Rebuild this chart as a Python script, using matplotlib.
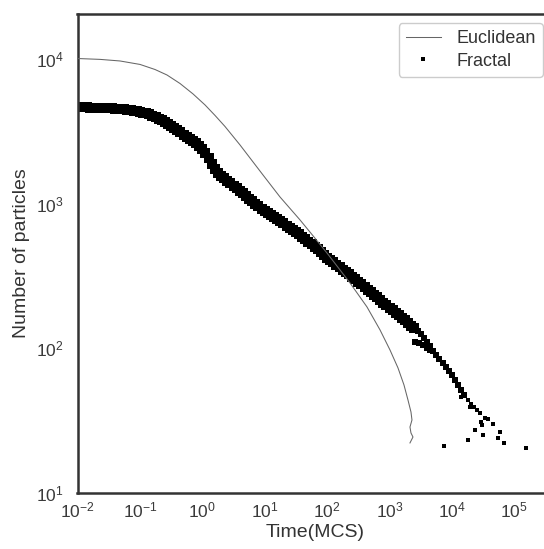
import matplotlib
matplotlib.use('Agg')
import matplotlib.pyplot as plt
import numpy as np

plt.rcParams['font.family'] = ['Liberation Sans', 'DejaVu Sans']
plt.rcParams['mathtext.fontset'] = 'custom'
plt.rcParams['mathtext.rm'] = 'Liberation Sans'
plt.rcParams['mathtext.it'] = 'Liberation Sans:italic'
plt.rcParams['mathtext.bf'] = 'Liberation Sans:bold'

# ---- data (log10 values) ----
euclid_log10_time = [-2.0, -1.639, -1.319, -0.998, -0.758, -0.566, -0.357, -0.149, 0.043, 0.204,
                     0.363, 0.604, 0.973, 1.245, 1.566, 1.758, 1.998, 2.207, 2.367, 2.639,
                     2.848, 3.008, 3.136, 3.232, 3.296, 3.344, 3.360, 3.328, 3.344, 3.376,
                     3.328]
euclid_log10_count = [4.003, 3.997, 3.986, 3.962, 3.927, 3.889, 3.830, 3.758, 3.682, 3.609,
                      3.533, 3.405, 3.197, 3.045, 2.886, 2.785, 2.657, 2.540, 2.450, 2.284,
                      2.125, 1.986, 1.862, 1.744, 1.640, 1.557, 1.502, 1.453, 1.412, 1.384,
                      1.343]

fractal_band_log10_time = [
    -2.00, -1.95, -1.90, -1.85, -1.80, -1.75, -1.70, -1.65, -1.60, -1.55,
    -1.50, -1.45, -1.40, -1.35, -1.30, -1.25, -1.20, -1.15, -1.10, -1.05,
    -1.00, -0.95, -0.90, -0.85, -0.80, -0.75, -0.70, -0.65, -0.60, -0.55,
    -0.50, -0.45, -0.40, -0.35, -0.30, -0.25, -0.20, -0.15, -0.10, -0.05,
    0.00, 0.05, 0.10, 0.15, 0.20, 0.25, 0.30, 0.35, 0.40, 0.45,
    0.50, 0.55, 0.60, 0.65, 0.70, 0.75, 0.80, 0.85, 0.90, 0.95,
    1.00, 1.05, 1.10, 1.15, 1.20, 1.25, 1.30, 1.35, 1.40, 1.45,
    1.50, 1.55, 1.60, 1.65, 1.70, 1.75, 1.80, 1.85, 1.90, 1.95,
    2.00, 2.05, 2.10, 2.15, 2.20, 2.25, 2.30, 2.35, 2.40, 2.45,
    2.50, 2.55, 2.60, 2.65, 2.70, 2.75, 2.80, 2.85, 2.90, 2.95,
    3.00, 3.05, 3.10, 3.15, 3.20, 3.25, 3.30, 3.35, 3.40]
fractal_band_log10_count = [
    3.668, 3.667, 3.666, 3.665, 3.664, 3.663, 3.662, 3.661, 3.661, 3.660,
    3.659, 3.658, 3.657, 3.656, 3.655, 3.652, 3.648, 3.644, 3.640, 3.637,
    3.633, 3.629, 3.626, 3.618, 3.608, 3.597, 3.586, 3.575, 3.564, 3.552,
    3.538, 3.523, 3.508, 3.492, 3.477, 3.461, 3.447, 3.434, 3.420, 3.398,
    3.375, 3.349, 3.315, 3.272, 3.240, 3.213, 3.191, 3.174, 3.157, 3.140,
    3.122, 3.104, 3.086, 3.069, 3.051, 3.034, 3.016, 2.998, 2.981, 2.963,
    2.947, 2.933, 2.919, 2.906, 2.892, 2.877, 2.862, 2.847, 2.832, 2.817,
    2.802, 2.786, 2.769, 2.753, 2.736, 2.718, 2.700, 2.682, 2.663, 2.645,
    2.626, 2.609, 2.592, 2.575, 2.559, 2.543, 2.527, 2.511, 2.494, 2.477,
    2.459, 2.441, 2.422, 2.404, 2.386, 2.368, 2.350, 2.332, 2.314, 2.297,
    2.279, 2.262, 2.245, 2.227, 2.209, 2.191, 2.173, 2.155, 2.137]

fractal_tail_log10_time = [3.45, 3.50, 3.55, 3.60, 3.65, 3.70, 3.75, 3.80, 3.85, 3.90,
                           3.95, 4.00, 4.05, 4.10, 4.15, 4.20,
                           3.41, 3.47, 3.54, 3.60, 3.65]
fractal_tail_log10_count = [2.118, 2.098, 2.070, 2.041, 2.013, 1.980, 1.952, 1.925, 1.897, 1.870,
                            1.842, 1.815, 1.780, 1.745, 1.709, 1.672,
                            2.044, 2.032, 2.021, 2.003, 1.986]

fractal_scatter_log10_time = [4.25, 4.30, 4.35, 4.40, 4.45,
                              3.873, 4.258, 4.370, 4.483, 4.498, 4.466, 4.578, 4.659, 4.771,
                              4.739, 4.835, 5.188, 4.53, 4.29, 4.146]
fractal_scatter_log10_count = [1.640, 1.615, 1.590, 1.571, 1.550,
                               1.322, 1.363, 1.433, 1.467, 1.398, 1.488, 1.509, 1.474, 1.419,
                               1.377, 1.343, 1.308, 1.516, 1.592, 1.661]

x_tick_exponents = [-2, -1, 0, 1, 2, 3, 4, 5]
y_tick_exponents = [1, 2, 3, 4]
series_labels = ['Euclidean', 'Fractal']

# ---- figure ----
fig = plt.figure(figsize=(5.44, 5.49), dpi=100)
ax = fig.add_axes([77.5 / 544, 56.5 / 549, 475 / 544, 478.5 / 549])
ax.set_xscale('log')
ax.set_yscale('log')

p10 = lambda v: np.power(10.0, np.asarray(v, dtype=float))

eu_line, = ax.plot(p10(euclid_log10_time), p10(euclid_log10_count),
                   color='#666666', lw=0.75, label=series_labels[0], zorder=3)
ax.plot(p10(fractal_band_log10_time), p10(fractal_band_log10_count), 's',
        color='black', ms=6.5, mew=0, zorder=2)
ax.plot(p10(fractal_tail_log10_time), p10(fractal_tail_log10_count), 's',
        color='black', ms=5.0, mew=0, zorder=2)
fr_pts, = ax.plot(p10(fractal_scatter_log10_time), p10(fractal_scatter_log10_count), 's',
                  color='black', ms=3.5, mew=0, zorder=2, label=series_labels[1])

ax.set_xlim(1e-2, 10 ** 5.612)
ax.set_ylim(10, 10 ** 4.311)
ax.set_xticks([10.0 ** e for e in x_tick_exponents])
ax.set_xticklabels([r'$10^{%d}$' % e for e in x_tick_exponents])
ax.set_yticks([10.0 ** e for e in y_tick_exponents])
ax.set_yticklabels([r'$10^{%d}$' % e for e in y_tick_exponents])
ax.minorticks_off()
ax.tick_params(axis='both', length=0, labelsize=12.5, colors='#3a3a3a')
ax.tick_params(axis='x', pad=6)
ax.tick_params(axis='y', pad=10)

for side in ['left', 'bottom', 'top']:
    ax.spines[side].set_color('#333333')
    ax.spines[side].set_linewidth(1.8)
ax.spines['right'].set_visible(False)

ax.set_xlabel('Time(MCS)', fontsize=14, color='#333333', labelpad=2)
ax.set_ylabel('Number of particles', fontsize=14, color='#333333', labelpad=4)

leg = ax.legend(handles=[eu_line, fr_pts], loc='upper right',
                bbox_to_anchor=(0.98, 0.981), borderaxespad=0, fontsize=13,
                numpoints=1, handlelength=1.95, handletextpad=0.85,
                borderpad=0.4, labelspacing=0.3, frameon=True, fancybox=True,
                framealpha=1, edgecolor='#cccccc')
for t in leg.get_texts():
    t.set_color('#333333')

fig.savefig('out.png', dpi=100)
